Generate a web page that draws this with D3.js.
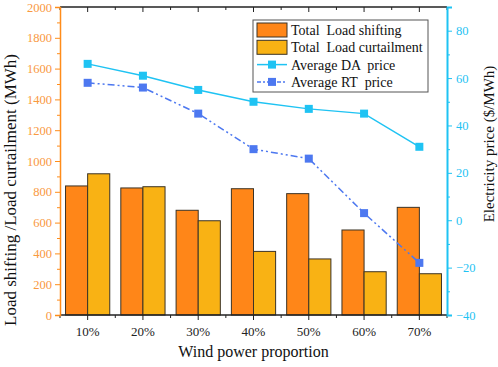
<!DOCTYPE html>
<html>
<head>
<meta charset="utf-8">
<script src="https://cdn.jsdelivr.net/npm/d3@7"></script>
<style>
  body { margin: 0; background: #fff; }
  svg text { font-family: "Times New Roman", "Liberation Serif", serif !important; }
</style>
</head>
<body>
<div id="chart"></div>
<script>
"use strict";

const WIDTH = 498, HEIGHT = 367;
const SERIF = "'Times New Roman', 'Liberation Serif', serif";

// data
var categories = ["10%", "20%", "30%", "40%", "50%", "60%", "70%"];
var loadShifting = [838, 825, 680, 820, 788, 552, 699];
var loadCurtailment = [917, 833, 612, 413, 364, 281, 268];
var daPrice = [66, 61, 55, 50, 47, 45, 31];
var rtPrice = [58, 56, 45, 30, 26, 3, -18];
var leftTicks = [0, 200, 400, 600, 800, 1000, 1200, 1400, 1600, 1800, 2000];
var rightTicks = [-40, -20, 0, 20, 40, 60, 80];

const ORANGE_AXIS = "#ff8c1a", ORANGE_TEXT = "#f9993f";
const CYAN = "#1fc3f3", BLUE = "#4d78f0";
const BAR1 = "#ff8618", BAR2 = "#f9b214";

var pLeft = 60, pRight = 447, pTop = 7, pBottom = 315;

var svg = d3.select("#chart").append("svg")
  .attr("width", WIDTH)
  .attr("height", HEIGHT)
  .attr("font-family", SERIF);

var xScale = d3.scaleBand()
  .domain(categories)
  .range([pLeft, pRight])
  .paddingInner(0.2)
  .paddingOuter(0.1);
var step = xScale.step();
var center = function(c) { return xScale(c) + xScale.bandwidth() / 2; };

var yLeft = d3.scaleLinear().domain([0, 2000]).range([pBottom, pTop]);
var yRight = d3.scaleLinear().domain([-40, 90]).range([pBottom, pTop]);

// bars
var barW = xScale.bandwidth() / 2;
svg.append("g").selectAll("rect")
  .data(categories)
  .join("rect")
  .attr("x", function(d) { return xScale(d); })
  .attr("y", function(d, i) { return yLeft(loadShifting[i]); })
  .attr("width", barW)
  .attr("height", function(d, i) { return pBottom - yLeft(loadShifting[i]); })
  .attr("fill", BAR1)
  .attr("stroke", "#3b3326")
  .attr("stroke-width", 1);
svg.append("g").selectAll("rect")
  .data(categories)
  .join("rect")
  .attr("x", function(d) { return xScale(d) + barW; })
  .attr("y", function(d, i) { return yLeft(loadCurtailment[i]); })
  .attr("width", barW)
  .attr("height", function(d, i) { return pBottom - yLeft(loadCurtailment[i]); })
  .attr("fill", BAR2)
  .attr("stroke", "#3b3326")
  .attr("stroke-width", 1);

// price lines
var priceLine = function(vals) {
  return d3.line()
    .x(function(d, i) { return center(categories[i]); })
    .y(function(d) { return yRight(d); })(vals);
};
svg.append("path")
  .attr("d", priceLine(daPrice))
  .attr("fill", "none")
  .attr("stroke", CYAN)
  .attr("stroke-width", 1.5);
svg.append("path")
  .attr("d", priceLine(rtPrice))
  .attr("fill", "none")
  .attr("stroke", BLUE)
  .attr("stroke-width", 1.5)
  .attr("stroke-dasharray", "7,3,2,3,2,3");
svg.append("g").selectAll("rect")
  .data(daPrice)
  .join("rect")
  .attr("x", function(d, i) { return center(categories[i]) - 4; })
  .attr("y", function(d) { return yRight(d) - 4; })
  .attr("width", 8).attr("height", 8)
  .attr("fill", CYAN);
svg.append("g").selectAll("rect")
  .data(rtPrice)
  .join("rect")
  .attr("x", function(d, i) { return center(categories[i]) - 4; })
  .attr("y", function(d) { return yRight(d) - 4; })
  .attr("width", 8).attr("height", 8)
  .attr("fill", BLUE);

// bottom axis
var xAxis = svg.append("g").attr("transform", "translate(0," + pBottom + ")");
xAxis.append("line").attr("x1", pLeft).attr("x2", pRight).attr("stroke", "#222").attr("stroke-width", 1.5);
xAxis.selectAll(".maj").data(categories).join("line")
  .attr("x1", center).attr("x2", center).attr("y1", 0).attr("y2", 5)
  .attr("stroke", "#222");
xAxis.selectAll(".min").data(d3.range(categories.length + 1)).join("line")
  .attr("x1", function(i) { return pLeft + i * step; })
  .attr("x2", function(i) { return pLeft + i * step; })
  .attr("y1", 0).attr("y2", 3)
  .attr("stroke", "#222");
xAxis.selectAll("text").data(categories).join("text")
  .attr("x", center).attr("y", 21)
  .attr("text-anchor", "middle")
  .attr("font-size", 13)
  .attr("fill", "#222")
  .text(function(d) { return d; });

// top border
var topAxis = svg.append("g").attr("transform", "translate(0," + pTop + ")");
topAxis.append("line").attr("x1", pLeft).attr("x2", pRight).attr("stroke", "#222").attr("stroke-width", 1.5);
topAxis.selectAll(".maj").data(categories).join("line")
  .attr("x1", center).attr("x2", center).attr("y1", 0).attr("y2", 5)
  .attr("stroke", "#222");
topAxis.selectAll(".min").data(d3.range(categories.length + 1)).join("line")
  .attr("x1", function(i) { return pLeft + i * step; })
  .attr("x2", function(i) { return pLeft + i * step; })
  .attr("y1", 0).attr("y2", 3)
  .attr("stroke", "#222");

// left axis
var yAxisL = svg.append("g")
  .attr("transform", "translate(" + pLeft + ",0)")
  .call(d3.axisLeft(yLeft).tickValues(leftTicks).tickSize(5).tickPadding(3).tickFormat(d3.format("d")));
svg.append("g")
  .attr("transform", "translate(" + pLeft + ",0)")
  .call(d3.axisLeft(yLeft).tickValues(d3.range(100, 2000, 200)).tickSize(3).tickFormat(""))
  .call(function(g) { g.select(".domain").remove(); })
  .selectAll("line").attr("stroke", ORANGE_AXIS);
yAxisL.select(".domain").attr("stroke", ORANGE_AXIS).attr("stroke-width", 1.5);
yAxisL.selectAll("line").attr("stroke", ORANGE_AXIS);
yAxisL.attr("font-family", SERIF).attr("font-size", 12.5);
yAxisL.selectAll("text").attr("fill", ORANGE_TEXT);

// right axis
var yAxisR = svg.append("g")
  .attr("transform", "translate(" + pRight + ",0)")
  .call(d3.axisRight(yRight).tickValues(rightTicks).tickSize(5).tickPadding(4).tickFormat(d3.format("d")));
svg.append("g")
  .attr("transform", "translate(" + pRight + ",0)")
  .call(d3.axisRight(yRight).tickValues(d3.range(-30, 90, 20)).tickSize(3).tickFormat(""))
  .call(function(g) { g.select(".domain").remove(); })
  .selectAll("line").attr("stroke", CYAN);
yAxisR.select(".domain").attr("stroke", CYAN).attr("stroke-width", 2);
yAxisR.selectAll("line").attr("stroke", CYAN);
yAxisR.attr("font-family", SERIF).attr("font-size", 12.5);
yAxisR.selectAll("text").attr("fill", CYAN);

// axis titles
svg.append("text")
  .attr("x", (pLeft + pRight) / 2).attr("y", 357)
  .attr("text-anchor", "middle")
  .attr("font-size", 16)
  .attr("fill", "#111")
  .text("Wind power proportion");
svg.append("text")
  .attr("transform", "translate(16,190) rotate(-90)")
  .attr("text-anchor", "middle")
  .attr("font-size", 17)
  .attr("fill", "#111")
  .text("Load shifting /Load curtailment (MWh)");
svg.append("text")
  .attr("transform", "translate(494,144) rotate(-90)")
  .attr("text-anchor", "middle")
  .attr("font-size", 15)
  .attr("fill", "#111")
  .text("Electricity price ($/MWh)");

// legend
var legend = svg.append("g").attr("transform", "translate(253,20)");
legend.append("rect")
  .attr("width", 175).attr("height", 72)
  .attr("fill", "#fff").attr("stroke", "#555").attr("stroke-width", 1);
var legendItems = [
  { label: "Total  Load shifting", type: "bar", color: BAR1 },
  { label: "Total  Load curtailment", type: "bar", color: BAR2 },
  { label: "Average DA  price", type: "line", color: CYAN, dash: null },
  { label: "Average RT  price", type: "line", color: BLUE, dash: "4,2,2,2" }
];
var rows = legend.selectAll(".row").data(legendItems).join("g")
  .attr("transform", function(d, i) { return "translate(0," + (10 + i * 17.3) + ")"; });
rows.filter(function(d) { return d.type === "bar"; })
  .append("rect")
  .attr("x", 4).attr("y", -7).attr("width", 30).attr("height", 14)
  .attr("fill", function(d) { return d.color; })
  .attr("stroke", "#3b3326");
rows.filter(function(d) { return d.type === "line"; })
  .append("line")
  .attr("x1", 4).attr("x2", 34)
  .attr("stroke", function(d) { return d.color; })
  .attr("stroke-width", 1.5)
  .attr("stroke-dasharray", function(d) { return d.dash; });
rows.filter(function(d) { return d.type === "line"; })
  .append("rect")
  .attr("x", 15).attr("y", -4).attr("width", 8).attr("height", 8)
  .attr("fill", function(d) { return d.color; });
rows.append("text")
  .attr("x", 38).attr("y", 5)
  .attr("font-size", 14)
  .attr("fill", "#111")
  .style("white-space", "pre")
  .text(function(d) { return d.label; });
</script>
</body>
</html>
